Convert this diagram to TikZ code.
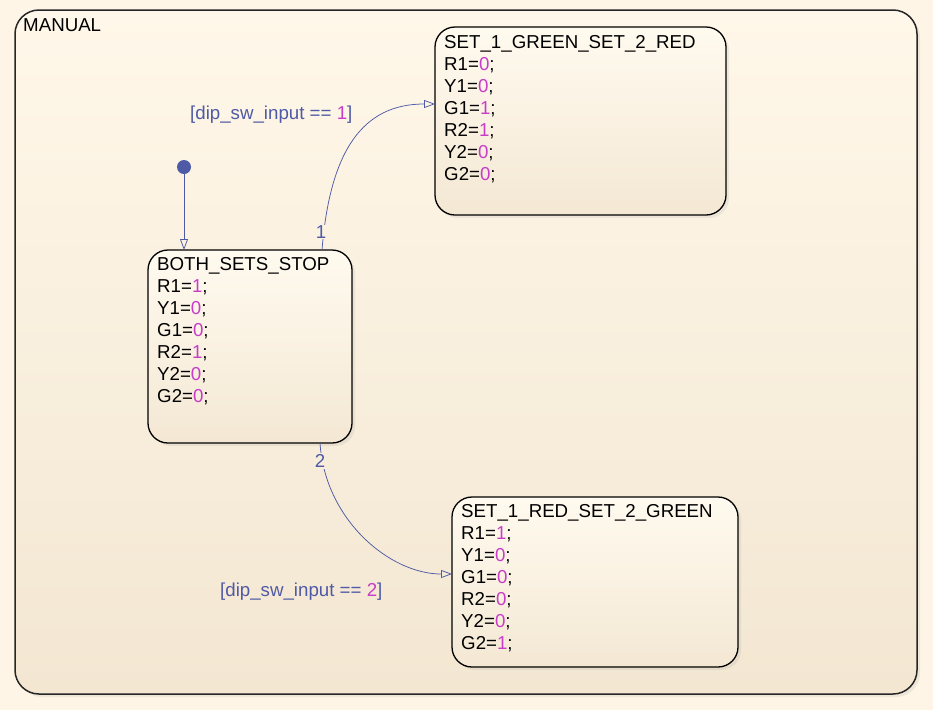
\documentclass[tikz,border=0pt]{standalone}
\usepackage{fontspec}
\setmainfont{Liberation Sans}
\usetikzlibrary{arrows.meta,shadows}
\definecolor{bgc}{HTML}{FEF5E6}
\definecolor{chartTop}{HTML}{FFF7E9}
\definecolor{chartBot}{HTML}{F3E7D2}
\definecolor{stTop}{HTML}{FFFAEF}
\definecolor{stBot}{HTML}{F4E8D4}
\definecolor{trc}{HTML}{4F5AA6}
\definecolor{numc}{HTML}{C83CC8}
\newcommand\mgn[1]{\textcolor{numc}{#1}}
\begin{document}
\begin{tikzpicture}[x=1pt,y=-1pt,
  txt/.style={font=\fontsize{18.7}{22}\selectfont, inner sep=0pt, align=left, anchor=north west},
  chartbox/.style={draw=black!85, line width=1.5pt, rounded corners=24pt, top color=chartTop, bottom color=chartBot,
    drop shadow={opacity=0.12, shadow xshift=3pt, shadow yshift=-3pt}, inner sep=0pt, outer sep=0pt, anchor=north west},
  statebox/.style={draw=black, line width=1.3pt, rounded corners=20pt, top color=stTop, bottom color=stBot,
    drop shadow={opacity=0.12, shadow xshift=3pt, shadow yshift=-3pt}, inner sep=0pt, outer sep=0pt, anchor=north west},
  trans/.style={draw=trc, line width=0.75pt, -{Triangle[open,length=11pt,width=8pt]}},
  lbl/.style={font=\fontsize{18.7}{22}\selectfont, text=trc, inner sep=1pt}]
\fill[bgc] (0,0) rectangle (933,710);
\useasboundingbox (0,0) rectangle (933,710);
% chart
\node[chartbox, minimum width=902pt, minimum height=684pt] (manual) at (15,10) {};
\node[txt] (manualT) at (23,18) {MANUAL};
% states
\node[statebox, minimum width=204pt, minimum height=193pt] (both) at (148,250) {};
\node[txt] (bothT) at (157,257.3) {BOTH\_SETS\_STOP\\R1=\mgn{1};\\Y1=\mgn{0};\\G1=\mgn{0};\\R2=\mgn{1};\\Y2=\mgn{0};\\G2=\mgn{0};};
\node[statebox, minimum width=291pt, minimum height=188pt] (green) at (435,27) {};
\node[txt] (greenT) at (444,35.3) {SET\_1\_GREEN\_SET\_2\_RED\\R1=\mgn{0};\\Y1=\mgn{0};\\G1=\mgn{1};\\R2=\mgn{1};\\Y2=\mgn{0};\\G2=\mgn{0};};
\node[statebox, minimum width=286pt, minimum height=170pt] (red) at (452,497) {};
\node[txt] (redT) at (461,504.3) {SET\_1\_RED\_SET\_2\_GREEN\\R1=\mgn{1};\\Y1=\mgn{0};\\G1=\mgn{0};\\R2=\mgn{0};\\Y2=\mgn{0};\\G2=\mgn{1};};
% default transition
\node[circle, fill=trc, inner sep=0pt, minimum size=14pt] (init) at (184,167) {};
\draw[trans] (init) -- (init |- both.north);
% transition 1
\draw[trans] ([xshift=174pt]both.north west) .. controls +(8,-100) and +(-72,0) .. ([yshift=-77pt]green.north west);
\node[lbl, fill=chartTop!70!chartBot] (n1) at (321,232) {1};
\node[lbl, anchor=west] (g1) at (189,115) {[dip\_sw\_input == \mgn{1}]};
% transition 2
\draw[trans] ([xshift=172pt]both.south west) .. controls +(5,77) and +(-62,0) .. ([yshift=-77pt]red.north west);
\node[lbl, fill=chartTop!35!chartBot] (n2) at (320,461) {2};
\node[lbl, anchor=west] (g2) at (219,592) {[dip\_sw\_input == \mgn{2}]};
\end{tikzpicture}
\end{document}
